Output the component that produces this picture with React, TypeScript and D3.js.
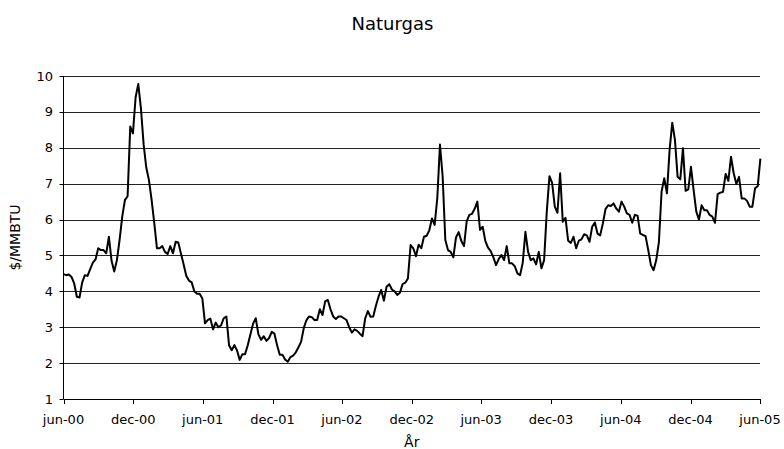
import React from "react";
import * as d3 from "d3";

// weekly Henry Hub prices, $/MMBTU (first week = jun-00)
const prices = [
  4.48, 4.45, 4.47, 4.4, 4.22, 3.85, 3.83, 4.25, 4.45, 4.43,
  4.62, 4.8, 4.89, 5.2, 5.15, 5.15, 5.06, 5.52, 4.85, 4.55,
  4.87, 5.43, 6.08, 6.54, 6.65, 8.59, 8.4, 9.4, 9.78, 9.1,
  8.1, 7.45, 7.1, 6.55, 5.9, 5.2, 5.2, 5.26, 5.1, 5.04,
  5.26, 5.06, 5.38, 5.36, 5.05, 4.75, 4.43, 4.3, 4.25, 4.0,
  3.93, 3.93, 3.8, 3.11, 3.2, 3.24, 2.94, 3.13, 3.0, 3.05,
  3.25, 3.3, 2.5, 2.36, 2.5, 2.35, 2.09, 2.25, 2.25, 2.5,
  2.8, 3.1, 3.25, 2.8, 2.65, 2.75, 2.62, 2.7, 2.87, 2.82,
  2.5, 2.23, 2.23, 2.1, 2.04, 2.17, 2.21, 2.3, 2.44, 2.6,
  2.98, 3.2, 3.3, 3.28, 3.2, 3.2, 3.5, 3.34, 3.72, 3.76,
  3.5, 3.3, 3.23, 3.3, 3.3, 3.25, 3.2, 3.0, 2.85, 2.94,
  2.9, 2.82, 2.75, 3.25, 3.45, 3.29, 3.3, 3.6, 3.85, 4.04,
  3.74, 4.13, 4.2, 4.05, 4.0, 3.9, 3.96, 4.2, 4.24, 4.36,
  5.29, 5.2, 4.98, 5.3, 5.2, 5.52, 5.55, 5.7, 6.03, 5.85,
  6.6, 8.09, 7.2, 5.43, 5.15, 5.1, 4.95, 5.5, 5.65, 5.4,
  5.26, 5.95, 6.13, 6.16, 6.3, 6.5, 5.71, 5.8, 5.4, 5.22,
  5.12, 4.95, 4.73, 4.9, 5.01, 4.87, 5.26, 4.78, 4.78, 4.7,
  4.5, 4.45, 4.8, 5.66, 5.1, 4.87, 4.92, 4.75, 5.1, 4.64,
  4.87, 6.22, 7.21, 7.02, 6.36, 6.19, 7.29, 5.94, 6.05, 5.41,
  5.35, 5.52, 5.2, 5.41, 5.45, 5.59, 5.56, 5.38, 5.8, 5.92,
  5.61, 5.56, 5.89, 6.29, 6.4, 6.38, 6.45, 6.31, 6.22, 6.5,
  6.36, 6.17, 6.13, 5.91, 6.13, 6.11, 5.61, 5.57, 5.54, 5.15,
  4.73, 4.59, 4.87, 5.38, 6.78, 7.15, 6.73, 7.94, 8.7, 8.22,
  7.19, 7.12, 7.99, 6.8, 6.84, 7.47, 6.82, 6.22, 6.0, 6.4,
  6.26, 6.26, 6.13, 6.08, 5.91, 6.71, 6.75, 6.77, 7.27, 7.08,
  7.75, 7.29, 6.99, 7.19, 6.59, 6.59, 6.52, 6.36, 6.36, 6.87,
  6.93, 7.7,
];

const xTickLabels = [
  "jun-00", "dec-00", "jun-01", "dec-01", "jun-02", "dec-02",
  "jun-03", "dec-03", "jun-04", "dec-04", "jun-05",
];
const yTicks = [1, 2, 3, 4, 5, 6, 7, 8, 9, 10];

const title = "Naturgas";
const xTitle = "År";
const yTitle = "$/MMBTU";

const W = 784;
const H = 449;
const left = 63.5;
const right = 760;
const top = 76;
const bottom = 399;
const font = "'DejaVu Sans', Verdana, sans-serif";

const start = new Date(Date.UTC(2000, 5, 1));
const end = new Date(Date.UTC(2005, 5, 1));

export default function App() {
  const x = d3.scaleUtc().domain([start, end]).range([left, right]);
  const y = d3.scaleLinear().domain([1, 10]).range([bottom, top]);

  const data = prices.map((v, i) => ({
    date: new Date(Date.UTC(2000, 5, 1 + 7 * i)),
    value: v,
  }));

  const line = d3
    .line<{ date: Date; value: number }>()
    .x((d) => x(d.date))
    .y((d) => y(d.value));

  // jun / dec ticks, every 6 months from the start
  const tickDates = d3.utcMonth.range(start, d3.utcDay.offset(end, 1), 6);

  return (
    <svg
      width={W}
      height={H}
      style={{ position: "absolute", left: 0, top: 0, background: "#fff" }}
      fontFamily={font}
    >
      <text x={392.5} y={30} textAnchor="middle" fontSize={18} fill="#000">
        {title}
      </text>

      {/* horizontal grid */}
      {yTicks
        .filter((t) => t > 1)
        .map((t) => (
          <line
            key={"g" + t}
            x1={left}
            x2={right}
            y1={Math.round(y(t)) + 0.5}
            y2={Math.round(y(t)) + 0.5}
            stroke="#222"
            strokeWidth={1}
          />
        ))}

      {/* y axis */}
      <line x1={left} x2={left} y1={top} y2={bottom} stroke="#000" />
      {yTicks.map((t) => (
        <g key={"y" + t}>
          <line
            x1={left - 4}
            x2={left}
            y1={Math.round(y(t)) + 0.5}
            y2={Math.round(y(t)) + 0.5}
            stroke="#000"
          />
          <text
            x={53}
            y={y(t)}
            dy="0.35em"
            textAnchor="end"
            fontSize={13}
            fill="#000"
          >
            {t}
          </text>
        </g>
      ))}

      {/* x axis */}
      <line x1={left} x2={right} y1={bottom + 0.5} y2={bottom + 0.5} stroke="#000" />
      {tickDates.map((d, i) => (
        <g key={"x" + i}>
          <line
            x1={Math.round(x(d)) + 0.5}
            x2={Math.round(x(d)) + 0.5}
            y1={bottom}
            y2={bottom + 5}
            stroke="#000"
          />
          <text x={x(d)} y={424} textAnchor="middle" fontSize={13} fill="#000">
            {xTickLabels[i]}
          </text>
        </g>
      ))}

      <path
        d={line(data) || ""}
        fill="none"
        stroke="#000"
        strokeWidth={2}
        strokeLinejoin="round"
      />

      <text x={(left + right) / 2} y={447} textAnchor="middle" fontSize={14} fill="#000">
        {xTitle}
      </text>
      <text
        transform={`translate(20, ${(top + bottom) / 2}) rotate(-90)`}
        textAnchor="middle"
        fontSize={14}
        fill="#000"
      >
        {yTitle}
      </text>
    </svg>
  );
}
